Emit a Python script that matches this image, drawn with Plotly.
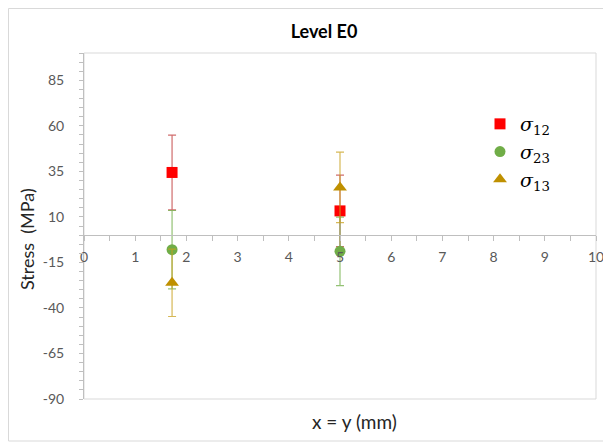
import plotly.graph_objects as go

# Data
x_pos = [1.72, 5.0]
s12 = [34.4, 13.3]
s12_err = [20.5, 19.6]
s23 = [-8.0, -8.9]
s23_err = [21.5, 18.8]
s13 = [-26.2, 26.2]
s13_err = [18.5, 19.4]

series_names = ["<i>σ</i><sub>12</sub>", "<i>σ</i><sub>23</sub>", "<i>σ</i><sub>13</sub>"]
y_ticks = [-90, -65, -40, -15, 10, 35, 60, 85]
x_ticks = [0, 1, 2, 3, 4, 5, 6, 7, 8, 9, 10]

Y_MIN, Y_MAX = -90, 100
X_MIN, X_MAX = 0, 10

FONT = "Lato"
GRAY = "#595959"

# page has an 8px body margin: figure is drawn from (8, 8)
W, H = 603, 436
L, R, T, B = 76, 15, 45, 45
PW, PH = W - L - R, H - T - B


def px_to_paper_x(px):
    return (px - 8 - L) / PW


def px_to_paper_y(py):
    return (H - B - (py - 8)) / PH


fig = go.Figure()

specs = [
    (s12, s12_err, series_names[0], "square", "#FF0000", "rgba(192,60,60,0.75)", 11),
    (s23, s23_err, series_names[1], "circle", "#70AD47", "rgba(112,173,71,0.75)", 11),
    (s13, s13_err, series_names[2], "triangle-up", "#BF9000", "rgba(200,160,30,0.75)", 12),
]
for vals, errs, name, sym, col, ecol, sz in specs:
    fig.add_trace(go.Scatter(
        x=x_pos, y=vals, mode="markers", name=name,
        marker=dict(symbol=sym, color=col, size=sz, line=dict(width=0)),
        error_y=dict(type="data", array=errs, visible=True, color=ecol, thickness=1.2, width=4),
    ))

xpos_frac = (0 - Y_MIN) / (Y_MAX - Y_MIN)

fig.update_layout(
    width=W, height=H,
    margin=dict(l=L, r=R, t=T, b=B, autoexpand=False),
    paper_bgcolor="white", plot_bgcolor="white",
    font=dict(family=FONT, color=GRAY),
    title=dict(text="<b>Level E0</b>", x=(324 - 8) / W, xref="container", xanchor="center",
               y=1 - (32 - 8) / H, yref="container", yanchor="middle",
               font=dict(family=FONT, size=18, color="#000000")),
    showlegend=True,
    legend=dict(x=px_to_paper_x(480), y=px_to_paper_y(105), xanchor="left", yanchor="top",
                font=dict(family="DejaVu Serif", size=19, color="#000000"),
                bgcolor="rgba(0,0,0,0)", tracegroupgap=0, itemwidth=30),
    xaxis=dict(range=[X_MIN, X_MAX], tickvals=x_ticks, ticktext=[str(t) for t in x_ticks],
               anchor="free", position=xpos_frac, showline=True, linecolor="#BFBFBF", linewidth=1,
               ticks="outside", ticklen=5, tickcolor="#BFBFBF",
               minor=dict(dtick=0.5, ticks="outside", ticklen=5, tickcolor="#BFBFBF"),
               showgrid=False, zeroline=False, automargin=False, ticklabelstandoff=4,
               tickfont=dict(family=FONT, size=14, color=GRAY)),
    yaxis=dict(range=[Y_MIN, Y_MAX], tickvals=y_ticks, ticktext=[str(t) for t in y_ticks],
               showline=True, linecolor="#BFBFBF", linewidth=1,
               ticks="outside", ticklen=4, tickcolor="#BFBFBF",
               minor=dict(dtick=5, tick0=0, ticks="outside", ticklen=4, tickcolor="#BFBFBF"),
               showgrid=False, zeroline=False, ticklabelstandoff=12, automargin=False,
               tickfont=dict(family=FONT, size=14, color=GRAY)),
)

# plot-area border and chart border
fig.add_shape(type="rect", xref="paper", yref="paper", x0=0, x1=1, y0=0, y1=1,
              line=dict(color="#D9D9D9", width=1), layer="below")
fig.add_shape(type="rect", xref="paper", yref="paper",
              x0=px_to_paper_x(8.5), x1=px_to_paper_x(610),
              y0=px_to_paper_y(441), y1=px_to_paper_y(8.5),
              line=dict(color="#D9D9D9", width=1), layer="below")

fig.add_annotation(text="Stress  (MPa)", xref="paper", yref="paper",
                   x=px_to_paper_x(27), y=px_to_paper_y(239), textangle=-90, showarrow=False,
                   xanchor="center", yanchor="middle",
                   font=dict(family=FONT, size=18, color="#262626"))
fig.add_annotation(text="x = y (mm)", xref="paper", yref="paper",
                   x=px_to_paper_x(354.5), y=px_to_paper_y(421.7), showarrow=False,
                   xanchor="center", yanchor="middle",
                   font=dict(family=FONT, size=19, color="#262626"))

fig.write_html("out.html")
